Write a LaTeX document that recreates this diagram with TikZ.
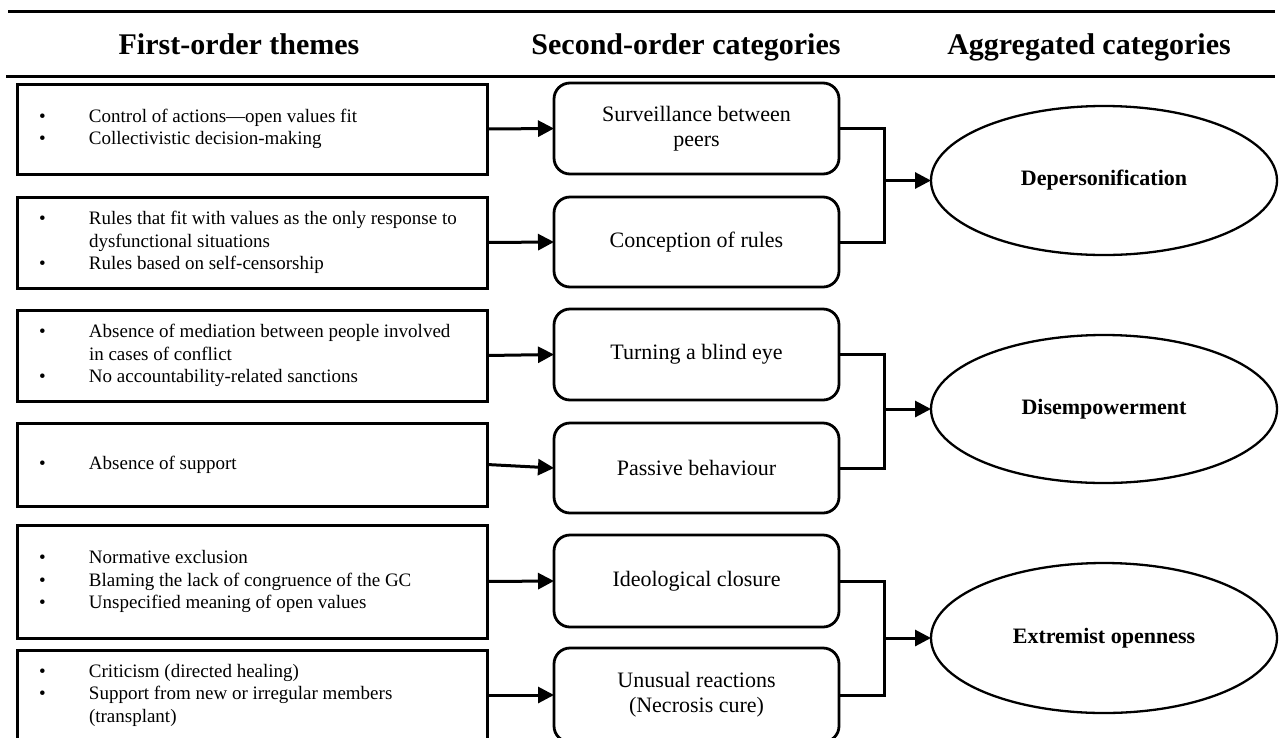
\documentclass[tikz,border=0pt]{standalone}
\usepackage{fontspec}
\setmainfont{Liberation Serif}
\usetikzlibrary{arrows.meta,shapes.geometric}
\newcommand{\bitem}[1]{\par\hangindent=50pt\hangafter=1\noindent\makebox[50pt][l]{\textbullet}#1}
\newcommand{\lbtext}[1]{\begin{minipage}{426pt}\raggedright\fontsize{19}{22.5}\selectfont #1\end{minipage}}
\tikzset{
  lbox/.style={draw, line width=3pt, minimum width=470pt, inner sep=0pt, outer sep=0pt},
  sbox/.style={draw, rounded corners=16pt, line width=2.8pt, minimum width=285pt, align=center,
               font=\fontsize{22}{25}\selectfont, inner sep=0pt, outer sep=0pt},
  agg/.style={draw, ellipse, line width=2.3pt, minimum width=346pt, inner sep=0pt, outer sep=0pt,
              font=\bfseries\fontsize{22}{26}\selectfont},
  arr/.style={line width=3pt, -{Triangle[length=16pt,width=16pt]}},
  link/.style={line width=3pt, line join=miter},
  hdr/.style={font=\bfseries\fontsize{30}{36}\selectfont, anchor=base},
  rule/.style={line width=3pt}
}
\begin{document}
\begin{tikzpicture}[x=1pt,y=-1pt]
\path[use as bounding box] (0,0) rectangle (1279,737);
\clip (0,0) rectangle (1279,737);
\fill[white] (0,0) rectangle (1279,737);

% header
\draw[rule] (8,11) -- (1275,11);
\draw[rule] (6,76) -- (1275,76);
\node[hdr] (h1) at (239,54) {First-order themes};
\node[hdr] (h2) at (686,54) {Second-order categories};
\node[hdr] (h3) at (1089,54) {Aggregated categories};

% first-order boxes
\node[lbox, minimum height=90pt] (l1) at (252,129) {\lbtext{\bitem{Control of actions—open values fit}\bitem{Collectivistic decision-making}}};
\node[lbox, minimum height=91pt] (l2) at (252,242.5) {\lbtext{\bitem{Rules that fit with values as the only response to\newline dysfunctional situations}\bitem{Rules based on self-censorship}}};
\node[lbox, minimum height=91pt] (l3) at (252,355.5) {\lbtext{\bitem{Absence of mediation between people involved\newline in cases of conflict}\bitem{No accountability-related sanctions}}};
\node[lbox, minimum height=83pt] (l4) at (252,464.5) {\lbtext{\bitem{Absence of support}}};
\node[lbox, minimum height=113pt] (l5) at (252,581.5) {\lbtext{\bitem{Normative exclusion}\bitem{Blaming the lack of congruence of the GC}\bitem{Unspecified meaning of open values}}};
\node[lbox, minimum height=90pt] (l6) at (252,695) {\lbtext{\bitem{Criticism (directed healing)}\bitem{Support from new or irregular members\newline (transplant)}}};

% second-order boxes
\node[sbox, minimum height=91pt] (r1) at (696.5,128.5) {Surveillance between\\peers};
\node[sbox, minimum height=90pt] (r2) at (696.5,242) {Conception of rules};
\node[sbox, minimum height=91pt] (r3) at (696.5,354.5) {Turning a blind eye};
\node[sbox, minimum height=90pt] (r4) at (696.5,468) {Passive behaviour};
\node[sbox, minimum height=92pt] (r5) at (696.5,581) {Ideological closure};
\node[sbox, minimum height=94pt] (r6) at (696.5,695) {Unusual reactions\\(Necrosis cure)};

% aggregated
\node[agg, minimum height=149pt] (e1) at (1104,180.5) {Depersonification};
\node[agg, minimum height=148pt] (e2) at (1104,409) {Disempowerment};
\node[agg, minimum height=150pt] (e3) at (1104,638) {Extremist openness};

% arrows first -> second
\draw[arr] (l1.east) -- (r1.west);
\draw[arr] (l2.east) -- (r2.west);
\draw[arr] (l3.east) -- (r3.west);
\draw[arr] (l4.east) -- (r4.west);
\draw[arr] (l5.east) -- (r5.west);
\draw[arr] (l6.east) -- (r6.west);

% junctions
\coordinate (j1) at (884,180.5);
\coordinate (j2) at (884,409);
\coordinate (j3) at (884,638);
\draw[link] (r1.east) -- (j1 |- r1.east) -- (j1 |- r2.east) -- (r2.east);
\draw[link] (r3.east) -- (j2 |- r3.east) -- (j2 |- r4.east) -- (r4.east);
\draw[link] (r5.east) -- (j3 |- r5.east) -- (j3 |- r6.east) -- (r6.east);
\draw[arr] (j1) -- (e1.west);
\draw[arr] (j2) -- (e2.west);
\draw[arr] (j3) -- (e3.west);
\end{tikzpicture}
\end{document}
